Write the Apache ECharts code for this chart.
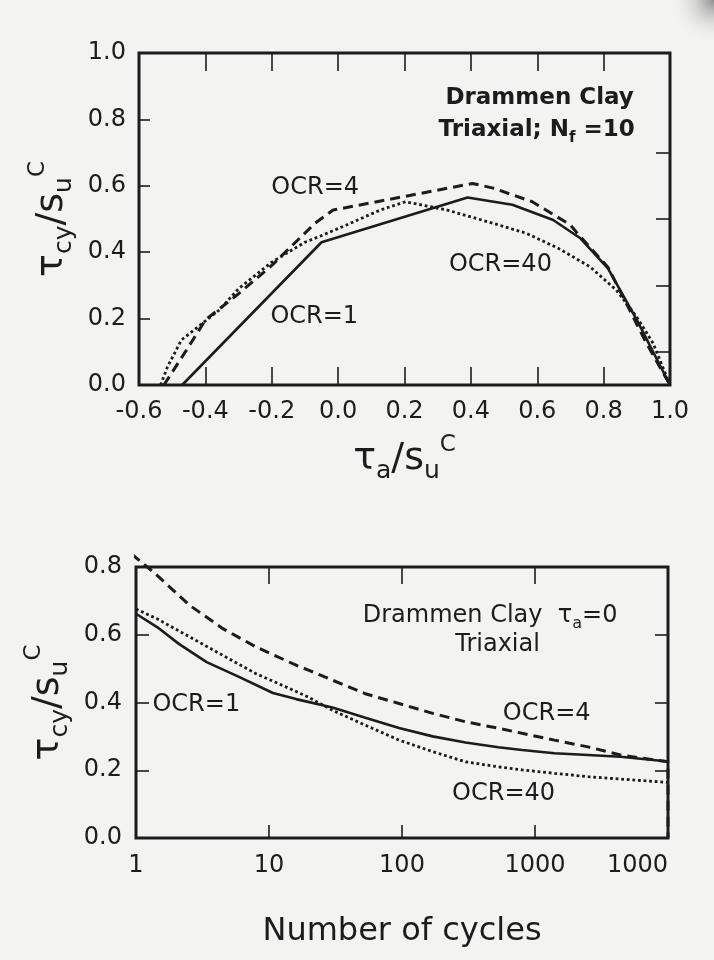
<!DOCTYPE html>
<html>
<head>
<meta charset="utf-8">
<script src="https://cdn.jsdelivr.net/npm/echarts@6.0.0/dist/echarts.min.js"></script>
<style>
  html, body { margin: 0; padding: 0; background: #f3f3f2; }
  #chart { width: 714px; height: 960px; }
</style>
</head>
<body>
<div id="chart"></div>
<script>
// Upper panel: cyclic shear strength vs. average shear stress (N_f = 10), pairs of [tau_a/su, tau_cy/su]
const ocr1Stress = [[-0.47,0],[-0.05,0.43],[0.39,0.565],[0.525,0.543],[0.648,0.497],[0.73,0.442],[0.813,0.351],[0.90,0.196],[1.0,0]];
const ocr4Stress = [[-0.525,0],[-0.457,0.105],[-0.40,0.196],[-0.30,0.275],[-0.20,0.36],[-0.07,0.487],[-0.015,0.527],[0.405,0.607],[0.467,0.593],[0.585,0.552],[0.70,0.482],[0.725,0.452],[0.813,0.355],[0.929,0.126],[1.0,0]];
const ocr40Stress = [[-0.535,0],[-0.514,0.055],[-0.472,0.136],[-0.421,0.176],[-0.358,0.226],[-0.30,0.29],[-0.20,0.37],[-0.10,0.43],[-0.045,0.452],[0.025,0.482],[0.127,0.527],[0.203,0.552],[0.328,0.527],[0.467,0.487],[0.567,0.457],[0.663,0.412],[0.759,0.356],[0.838,0.286],[0.899,0.206],[0.949,0.126],[1.0,0]];

// Lower panel: cyclic shear strength vs. number of cycles (tau_a = 0), pairs of [N, tau_cy/su]
const ocr1Cycles = [[1,0.662],[1.45,0.622],[2.1,0.573],[3.4,0.519],[6,0.475],[10.7,0.428],[16,0.41],[30,0.385],[53,0.355],[95,0.325],[170,0.30],[300,0.282],[530,0.268],[800,0.26],[1400,0.25],[2500,0.245],[4400,0.24],[10000,0.226]];
const ocr4Cycles = [[0.93,0.838],[1.36,0.784],[2.55,0.686],[4.5,0.618],[8,0.564],[16,0.51],[20,0.495],[30,0.466],[53,0.426],[95,0.397],[170,0.368],[300,0.343],[530,0.324],[800,0.309],[1400,0.289],[2500,0.269],[4400,0.245],[10000,0.225],[10000,0]];
const ocr40Cycles = [[1,0.676],[1.44,0.647],[2.55,0.593],[4.5,0.539],[8,0.485],[14.3,0.441],[20,0.415],[30,0.377],[53,0.333],[95,0.289],[170,0.255],[300,0.225],[530,0.21],[800,0.201],[1400,0.191],[2500,0.181],[4400,0.174],[10000,0.164]];

// Tick labels of the cycle axis (1 ... 10^4)
const cycleTickLabels = ['1', '10', '100', '1000', '1000'];
const stressRightTicks = [0.1, 0.3, 0.5, 0.7];

const INK = '#1c1c1c';
const FONT = "'DejaVu Sans', 'Liberation Sans', Arial, sans-serif";

const nameRich = {
  t: { fontSize: 38, lineHeight: 50, verticalAlign: 'middle', fontFamily: FONT, color: INK },
  s: { fontSize: 25, lineHeight: 50, verticalAlign: 'bottom', fontFamily: FONT, color: INK },
  p: { fontSize: 23, lineHeight: 50, verticalAlign: 'top', fontFamily: FONT, color: INK }
};
const ratioName = '{t|τ}{s|cy}{t|/s}{s|u}{p|C}';
const avgName = '{t|τ}{s|a}{t|/s}{s|u}{p|C}';

const tickLine = { color: INK, width: 1.6 };
const labelStyle = { color: INK, fontSize: 24, fontFamily: FONT };

function frameAxis(extra) {
  return Object.assign({
    axisLine: { show: false, onZero: false },
    splitLine: { show: false },
    axisTick: { show: true, inside: true, lineStyle: tickLine },
    axisLabel: { show: false }
  }, extra);
}

// Text placed in data coordinates of each panel
const stressNotes = [
  { at: [-0.069, 0.593], text: 'OCR=4', align: 'center' },
  { at: [-0.072, 0.205], text: 'OCR=1', align: 'center' },
  { at: [0.489, 0.361], text: 'OCR=40', align: 'center' },
  { at: [0.891, 0.864], text: '{b|Drammen Clay}', align: 'right' },
  { at: [0.894, 0.768], text: '{b|Triaxial; N}{bs|f}{b| =10}', align: 'right' }
];
const cycleNotes = [
  { at: [1.33, 0.392], text: 'OCR=1', align: 'left' },
  { at: [573, 0.368], text: 'OCR=4', align: 'left' },
  { at: [238, 0.132], text: 'OCR=40', align: 'left' },
  { at: [50.7, 0.657], text: 'Drammen Clay  {g|τ}{gs|a}{g|=0}', align: 'left' },
  { at: [523, 0.569], text: 'Triaxial', align: 'center' }
];

const noteRich = {
  b: { fontSize: 23, fontWeight: 'bold', fontFamily: FONT, color: INK, lineHeight: 32, verticalAlign: 'middle' },
  bs: { fontSize: 15, fontWeight: 'bold', fontFamily: FONT, color: INK, lineHeight: 32, verticalAlign: 'bottom' },
  g: { fontSize: 24, fontFamily: FONT, color: INK, lineHeight: 32, verticalAlign: 'middle' },
  gs: { fontSize: 16, fontFamily: FONT, color: INK, lineHeight: 32, verticalAlign: 'bottom' }
};

function noteSeries(notes, xi, yi) {
  return {
    type: 'scatter', xAxisIndex: xi, yAxisIndex: yi,
    symbolSize: 1, silent: true, z: 5,
    itemStyle: { color: 'transparent', opacity: 1 },
    data: notes.map(n => ({
      value: n.at,
      label: {
        show: true, position: 'inside', formatter: n.text, opacity: 1,
        align: n.align, verticalAlign: 'middle',
        fontSize: 24, fontFamily: FONT, color: INK, rich: noteRich
      }
    }))
  };
}

function curve(data, xi, yi, kind, clip) {
  const ls = { color: INK, width: 2.6, type: 'solid' };
  if (kind === 'dash') { ls.type = [10, 6]; ls.width = 3; }
  if (kind === 'dot') { ls.type = [2.8, 2.8]; ls.width = 2.8; }
  return {
    type: 'line', xAxisIndex: xi, yAxisIndex: yi, data: data,
    showSymbol: false, symbol: 'none', smooth: false, clip: clip,
    lineStyle: ls, silent: true, z: 3
  };
}

const chart = echarts.init(document.getElementById('chart'), null, { renderer: 'canvas' });

chart.setOption({
  backgroundColor: '#f3f3f2',
  animation: false,
  grid: [
    { left: 139, top: 53, width: 531, height: 332, show: true, borderWidth: 3, borderColor: INK, backgroundColor: 'transparent', z: 4 },
    { left: 136, top: 567, width: 532, height: 271, show: true, borderWidth: 3, borderColor: INK, backgroundColor: 'transparent', z: 4 }
  ],
  graphic: [{
    // shaded page edge in the upper right corner
    type: 'rect', left: 654, top: 0, shape: { width: 60, height: 90 }, silent: true,
    style: { fill: new echarts.graphic.RadialGradient(1, 0, 0.75, [
      { offset: 0, color: 'rgba(110,110,110,0.75)' },
      { offset: 0.45, color: 'rgba(160,160,160,0.35)' },
      { offset: 1, color: 'rgba(243,243,242,0)' }
    ]) }
  }],
  xAxis: [
    frameAxis({
      type: 'value', gridIndex: 0, position: 'bottom', min: -0.6, max: 1.0, interval: 0.2,
      axisTick: { show: true, inside: true, length: 18, lineStyle: tickLine },
      axisLabel: Object.assign({ show: true, margin: 15, formatter: v => v.toFixed(1) }, labelStyle),
      name: avgName, nameLocation: 'middle', nameGap: 49,
      nameTextStyle: { rich: nameRich }
    }),
    frameAxis({
      type: 'value', gridIndex: 0, position: 'top', min: -0.6, max: 1.0, interval: 0.2,
      axisTick: { show: true, inside: true, length: 18, lineStyle: tickLine }
    }),
    frameAxis({
      type: 'log', logBase: 10, gridIndex: 1, position: 'bottom', min: 1, max: 10000,
      axisTick: { show: true, inside: true, length: 13, lineStyle: tickLine },
      axisLabel: Object.assign({
        show: true, margin: 16, showMinLabel: true, showMaxLabel: true, alignMaxLabel: 'right',
        formatter: (v) => cycleTickLabels[Math.round(Math.log10(v))]
      }, labelStyle),
      name: 'Number of cycles', nameLocation: 'middle', nameGap: 78,
      nameTextStyle: { fontSize: 32, fontFamily: FONT, color: INK }
    }),
    frameAxis({
      type: 'log', logBase: 10, gridIndex: 1, position: 'top', min: 1, max: 10000,
      axisTick: { show: true, inside: true, length: 17, lineStyle: tickLine }
    })
  ],
  yAxis: [
    frameAxis({
      type: 'value', gridIndex: 0, position: 'left', min: 0, max: 1.0, interval: 0.2,
      axisTick: { show: true, inside: true, length: 11, lineStyle: tickLine },
      axisLabel: Object.assign({ show: true, margin: 13, formatter: v => v.toFixed(1) }, labelStyle),
      name: ratioName, nameLocation: 'middle', nameRotate: 90, nameGap: 62,
      nameTextStyle: { rich: nameRich }
    }),
    frameAxis({
      type: 'value', gridIndex: 0, position: 'right', min: 0, max: 1.0, interval: 0.2,
      axisTick: { show: true, inside: true, length: 14, lineStyle: tickLine, customValues: stressRightTicks }
    }),
    frameAxis({
      type: 'value', gridIndex: 1, position: 'left', min: 0, max: 0.8, interval: 0.2,
      axisTick: { show: true, inside: true, length: 13, lineStyle: tickLine },
      axisLabel: Object.assign({ show: true, margin: 14, formatter: v => v.toFixed(1) }, labelStyle),
      name: ratioName, nameLocation: 'middle', nameRotate: 90, nameGap: 60,
      nameTextStyle: { rich: nameRich }
    }),
    frameAxis({
      type: 'value', gridIndex: 1, position: 'right', min: 0, max: 0.8, interval: 0.2,
      axisTick: { show: true, inside: true, length: 13, lineStyle: tickLine }
    })
  ],
  series: [
    curve(ocr1Stress, 0, 0, 'solid', true),
    curve(ocr4Stress, 0, 0, 'dash', true),
    curve(ocr40Stress, 0, 0, 'dot', true),
    curve(ocr1Cycles, 2, 2, 'solid', false),
    curve(ocr4Cycles, 2, 2, 'dash', false),
    curve(ocr40Cycles, 2, 2, 'dot', false),
    noteSeries(stressNotes, 0, 0),
    noteSeries(cycleNotes, 2, 2)
  ]
});
</script>
</body>
</html>
